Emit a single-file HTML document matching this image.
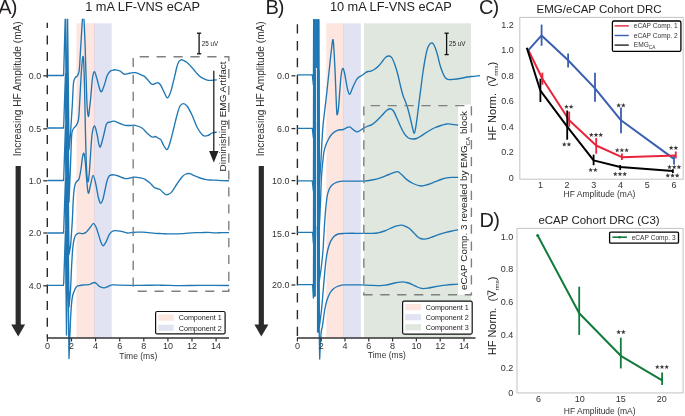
<!DOCTYPE html>
<html><head><meta charset="utf-8"><style>
html,body{margin:0;padding:0;background:#fff;width:685px;height:416px;overflow:hidden;}
svg{display:block;will-change:transform;}
text{font-family:"Liberation Sans",sans-serif;}
</style></head><body>
<svg width="685" height="416" viewBox="0 0 685 416" font-family="Liberation Sans, sans-serif">
<rect width="685" height="416" fill="#fff"/>
<defs>
<clipPath id="clipA"><rect x="0" y="18.8" width="232" height="400"/></clipPath>
<clipPath id="clipB"><rect x="240" y="19.2" width="245" height="400"/></clipPath>
</defs>
<rect x="76.4" y="23.3" width="18.1" height="314.7" fill="#fde6df"/>
<rect x="94.4" y="23.3" width="17.3" height="314.7" fill="#e1e3f2"/>
<rect x="93.9" y="23.3" width="1.1" height="314.7" fill="#e5d7e2"/>
<line x1="47.3" y1="22.8" x2="47.3" y2="338" stroke="#2a2a2a" stroke-width="1.4" stroke-dasharray="9 7.6" stroke-dashoffset="3.9"/>
<g clip-path="url(#clipA)" fill="none" stroke="#1f77b4" stroke-width="1.35" stroke-linejoin="round">
<path d="M47.40,75.50 L63.30,75.50 L63.70,73.50 L65.45,10.00 L66.50,145.50 L67.50,10.00 L69.00,149.50 L69.00,149.50 C69.22,147.25 69.92,140.75 70.30,136.00 C70.68,131.25 70.95,126.50 71.30,121.00 C71.65,115.50 72.08,108.67 72.40,103.00 C72.72,97.33 72.95,90.75 73.20,87.00 C73.45,83.25 73.52,82.12 73.90,80.50 C74.28,78.88 74.95,78.02 75.50,77.30 C76.05,76.58 76.68,76.92 77.20,76.20 C77.72,75.48 78.20,74.70 78.60,73.00 C79.00,71.30 79.12,72.50 79.60,66.00 C80.08,59.50 80.88,43.00 81.50,34.00 C82.12,25.00 82.72,10.67 83.30,12.00 C83.88,13.33 84.42,27.33 85.00,42.00 C85.58,56.67 86.25,87.62 86.80,100.00 C87.35,112.38 87.83,114.97 88.30,116.30 C88.77,117.63 89.20,111.05 89.60,108.00 C90.00,104.95 90.22,103.00 90.70,98.00 C91.18,93.00 91.87,82.38 92.50,78.00 C93.13,73.62 93.75,71.53 94.50,71.70 C95.25,71.87 95.95,75.68 97.00,79.00 C98.05,82.32 99.63,90.43 100.80,91.60 C101.97,92.77 102.97,88.60 104.00,86.00 C105.03,83.40 106.05,78.38 107.00,76.00 C107.95,73.62 108.78,72.65 109.70,71.70 C110.62,70.75 111.50,70.62 112.50,70.30 C113.50,69.98 114.45,69.68 115.70,69.80 C116.95,69.92 118.60,70.28 120.00,71.00 C121.40,71.72 122.77,73.67 124.10,74.10 C125.43,74.53 126.80,73.80 128.00,73.60 C129.20,73.40 130.13,73.05 131.30,72.90 C132.47,72.75 133.80,72.58 135.00,72.70 C136.20,72.82 137.27,73.17 138.50,73.60 C139.73,74.03 141.35,74.80 142.40,75.30 C143.45,75.80 144.03,75.98 144.80,76.60 C145.57,77.22 146.20,78.10 147.00,79.00 C147.80,79.90 148.85,81.17 149.60,82.00 C150.35,82.83 150.90,83.60 151.50,84.00 C152.10,84.40 152.53,84.52 153.20,84.40 C153.87,84.28 154.70,83.60 155.50,83.30 C156.30,83.00 157.25,82.43 158.00,82.60 C158.75,82.77 159.40,83.58 160.00,84.30 C160.60,85.02 160.85,85.45 161.60,86.90 C162.35,88.35 163.60,91.20 164.50,93.00 C165.40,94.80 166.25,97.20 167.00,97.70 C167.75,98.20 168.28,97.30 169.00,96.00 C169.72,94.70 170.63,92.07 171.30,89.90 C171.97,87.73 172.40,85.42 173.00,83.00 C173.60,80.58 174.28,77.98 174.90,75.40 C175.52,72.82 176.10,69.70 176.70,67.50 C177.30,65.30 177.90,63.42 178.50,62.20 C179.10,60.98 179.70,60.60 180.30,60.20 C180.90,59.80 181.32,59.63 182.10,59.80 C182.88,59.97 184.00,60.60 185.00,61.20 C186.00,61.80 187.10,62.52 188.10,63.40 C189.10,64.28 190.00,65.40 191.00,66.50 C192.00,67.60 193.10,68.83 194.10,70.00 C195.10,71.17 196.02,72.40 197.00,73.50 C197.98,74.60 199.00,75.78 200.00,76.60 C201.00,77.42 201.67,77.78 203.00,78.40 C204.33,79.02 206.57,79.98 208.00,80.30 C209.43,80.62 210.27,80.37 211.60,80.30 C212.93,80.23 214.27,80.00 216.00,79.90 C217.73,79.80 219.83,79.75 222.00,79.70 C224.17,79.65 227.83,79.62 229.00,79.60"/>
<path d="M47.40,128.00 L63.30,128.00 L63.70,126.00 L65.45,74.00 L66.50,192.00 L67.50,74.00 L69.00,202.00 L69.00,202.00 C69.23,196.33 70.03,177.50 70.40,168.00 C70.77,158.50 70.95,150.83 71.20,145.00 C71.45,139.17 71.52,135.75 71.90,133.00 C72.28,130.25 72.85,129.67 73.50,128.50 C74.15,127.33 75.13,126.92 75.80,126.00 C76.47,125.08 77.02,124.33 77.50,123.00 C77.98,121.67 78.35,121.17 78.70,118.00 C79.05,114.83 79.13,112.00 79.60,104.00 C80.07,96.00 80.88,77.87 81.50,70.00 C82.12,62.13 82.80,54.30 83.30,56.80 C83.80,59.30 84.15,72.80 84.50,85.00 C84.85,97.20 85.07,116.17 85.40,130.00 C85.73,143.83 86.10,159.42 86.50,168.00 C86.90,176.58 87.38,180.17 87.80,181.50 C88.22,182.83 88.60,179.58 89.00,176.00 C89.40,172.42 89.70,166.83 90.20,160.00 C90.70,153.17 91.28,140.67 92.00,135.00 C92.72,129.33 93.67,126.17 94.50,126.00 C95.33,125.83 96.12,130.50 97.00,134.00 C97.88,137.50 98.80,146.33 99.80,147.00 C100.80,147.67 101.88,141.83 103.00,138.00 C104.12,134.17 105.33,126.65 106.50,124.00 C107.67,121.35 108.70,122.57 110.00,122.10 C111.30,121.63 112.63,120.97 114.30,121.20 C115.97,121.43 118.22,122.82 120.00,123.50 C121.78,124.18 123.33,124.97 125.00,125.30 C126.67,125.63 128.33,125.50 130.00,125.50 C131.67,125.50 133.00,124.88 135.00,125.30 C137.00,125.72 140.00,126.72 142.00,128.00 C144.00,129.28 145.33,131.50 147.00,133.00 C148.67,134.50 150.67,136.42 152.00,137.00 C153.33,137.58 154.00,136.33 155.00,136.50 C156.00,136.67 157.03,137.47 158.00,138.00 C158.97,138.53 159.80,138.37 160.80,139.70 C161.80,141.03 162.92,144.37 164.00,146.00 C165.08,147.63 166.22,150.33 167.30,149.50 C168.38,148.67 169.42,144.58 170.50,141.00 C171.58,137.42 172.72,132.33 173.80,128.00 C174.88,123.67 175.97,118.67 177.00,115.00 C178.03,111.33 178.92,107.90 180.00,106.00 C181.08,104.10 182.33,103.60 183.50,103.60 C184.67,103.60 185.58,104.10 187.00,106.00 C188.42,107.90 190.33,111.50 192.00,115.00 C193.67,118.50 195.17,123.60 197.00,127.00 C198.83,130.40 201.17,133.98 203.00,135.40 C204.83,136.82 206.50,135.90 208.00,135.50 C209.50,135.10 210.67,133.55 212.00,133.00 C213.33,132.45 214.33,132.37 216.00,132.20 C217.67,132.03 219.83,132.03 222.00,132.00 C224.17,131.97 227.83,132.00 229.00,132.00"/>
<path d="M47.40,180.50 L63.30,180.50 L63.70,178.50 L65.45,126.50 L66.50,242.50 L67.50,126.50 L69.00,254.50 L69.00,254.50 C69.25,253.08 70.08,249.58 70.50,246.00 C70.92,242.42 71.18,237.50 71.50,233.00 C71.82,228.50 72.12,224.33 72.40,219.00 C72.68,213.67 72.90,206.00 73.20,201.00 C73.50,196.00 73.82,191.92 74.20,189.00 C74.58,186.08 75.08,184.75 75.50,183.50 C75.92,182.25 76.10,182.30 76.70,181.50 C77.30,180.70 78.38,180.78 79.10,178.70 C79.82,176.62 80.43,172.62 81.00,169.00 C81.57,165.38 82.02,159.62 82.50,157.00 C82.98,154.38 83.43,152.47 83.90,153.30 C84.37,154.13 84.87,157.88 85.30,162.00 C85.73,166.12 86.00,172.82 86.50,178.00 C87.00,183.18 87.63,191.93 88.30,193.10 C88.97,194.27 89.70,187.97 90.50,185.00 C91.30,182.03 92.18,175.30 93.10,175.30 C94.02,175.30 95.10,181.22 96.00,185.00 C96.90,188.78 97.73,194.97 98.50,198.00 C99.27,201.03 99.85,203.03 100.60,203.20 C101.35,203.37 102.27,201.20 103.00,199.00 C103.73,196.80 104.33,193.00 105.00,190.00 C105.67,187.00 106.27,183.37 107.00,181.00 C107.73,178.63 108.23,176.83 109.40,175.80 C110.57,174.77 112.57,174.77 114.00,174.80 C115.43,174.83 116.17,175.37 118.00,176.00 C119.83,176.63 123.00,178.27 125.00,178.60 C127.00,178.93 128.33,178.25 130.00,178.00 C131.67,177.75 133.33,177.13 135.00,177.10 C136.67,177.07 138.33,177.43 140.00,177.80 C141.67,178.17 143.33,178.43 145.00,179.30 C146.67,180.17 148.50,181.67 150.00,183.00 C151.50,184.33 152.83,186.38 154.00,187.30 C155.17,188.22 156.00,188.13 157.00,188.50 C158.00,188.87 159.00,188.83 160.00,189.50 C161.00,190.17 161.97,191.60 163.00,192.50 C164.03,193.40 165.20,194.65 166.20,194.90 C167.20,195.15 168.03,194.55 169.00,194.00 C169.97,193.45 170.67,193.27 172.00,191.60 C173.33,189.93 175.33,186.43 177.00,184.00 C178.67,181.57 180.50,178.67 182.00,177.00 C183.50,175.33 184.67,174.55 186.00,174.00 C187.33,173.45 188.50,173.37 190.00,173.70 C191.50,174.03 193.33,175.28 195.00,176.00 C196.67,176.72 198.32,177.45 200.00,178.00 C201.68,178.55 203.43,178.97 205.10,179.30 C206.77,179.63 208.18,179.85 210.00,180.00 C211.82,180.15 214.00,180.10 216.00,180.20 C218.00,180.30 219.83,180.50 222.00,180.60 C224.17,180.70 227.83,180.77 229.00,180.80"/>
<path d="M47.40,233.00 L63.30,233.00 L63.70,231.00 L65.45,179.00 L66.50,293.00 L67.50,179.00 L69.00,307.00 L69.00,307.00 C69.25,304.17 70.08,296.50 70.50,290.00 C70.92,283.50 71.20,274.00 71.50,268.00 C71.80,262.00 72.05,257.67 72.30,254.00 C72.55,250.33 72.72,248.33 73.00,246.00 C73.28,243.67 73.63,241.67 74.00,240.00 C74.37,238.33 74.70,237.00 75.20,236.00 C75.70,235.00 76.35,234.47 77.00,234.00 C77.65,233.53 78.12,233.27 79.10,233.20 C80.08,233.13 81.75,233.75 82.90,233.60 C84.05,233.45 85.23,232.77 86.00,232.30 C86.77,231.83 86.75,231.68 87.50,230.80 C88.25,229.92 89.50,228.25 90.50,227.00 C91.50,225.75 92.58,223.30 93.50,223.30 C94.42,223.30 95.20,225.27 96.00,227.00 C96.80,228.73 97.55,231.37 98.30,233.70 C99.05,236.03 99.70,239.00 100.50,241.00 C101.30,243.00 102.18,245.53 103.10,245.70 C104.02,245.87 105.00,243.80 106.00,242.00 C107.00,240.20 108.10,236.65 109.10,234.90 C110.10,233.15 110.98,232.22 112.00,231.50 C113.02,230.78 113.67,230.63 115.20,230.60 C116.73,230.57 119.20,230.90 121.20,231.30 C123.20,231.70 125.57,232.77 127.20,233.00 C128.83,233.23 129.40,232.83 131.00,232.70 C132.60,232.57 134.97,232.30 136.80,232.20 C138.63,232.10 140.13,232.03 142.00,232.10 C143.87,232.17 145.83,232.40 148.00,232.60 C150.17,232.80 152.67,233.13 155.00,233.30 C157.33,233.47 159.83,233.50 162.00,233.60 C164.17,233.70 165.83,233.85 168.00,233.90 C170.17,233.95 172.67,233.95 175.00,233.90 C177.33,233.85 179.83,233.73 182.00,233.60 C184.17,233.47 185.83,233.25 188.00,233.10 C190.17,232.95 192.67,232.78 195.00,232.70 C197.33,232.62 199.83,232.65 202.00,232.60 C204.17,232.55 205.83,232.37 208.00,232.40 C210.17,232.43 212.67,232.75 215.00,232.80 C217.33,232.85 219.67,232.73 222.00,232.70 C224.33,232.67 227.83,232.62 229.00,232.60"/>
<path d="M47.40,285.40 L63.30,285.40 L63.70,283.40 L65.45,231.40 L66.50,335.00 L67.50,231.40 L69.00,358.50 L69.00,358.50 C69.23,352.42 69.98,331.08 70.40,322.00 C70.82,312.92 71.10,308.50 71.50,304.00 C71.90,299.50 72.23,297.42 72.80,295.00 C73.37,292.58 74.33,290.83 74.90,289.50 C75.47,288.17 75.70,287.60 76.20,287.00 C76.70,286.40 76.77,286.23 77.90,285.90 C79.03,285.57 81.20,285.20 83.00,285.00 C84.80,284.80 87.28,284.95 88.70,284.70 C90.12,284.45 90.50,283.87 91.50,283.50 C92.50,283.13 93.87,282.50 94.70,282.50 C95.53,282.50 95.90,283.02 96.50,283.50 C97.10,283.98 97.55,284.78 98.30,285.40 C99.05,286.02 100.00,286.80 101.00,287.20 C102.00,287.60 103.13,287.92 104.30,287.80 C105.47,287.68 106.60,286.98 108.00,286.50 C109.40,286.02 110.70,285.12 112.70,284.90 C114.70,284.68 115.45,285.12 120.00,285.20 C124.55,285.28 133.33,285.40 140.00,285.40 C146.67,285.40 153.33,285.17 160.00,285.20 C166.67,285.23 173.33,285.58 180.00,285.60 C186.67,285.62 191.83,285.32 200.00,285.30 C208.17,285.28 224.17,285.47 229.00,285.50"/>
</g>
<rect x="216.8" y="60" width="13" height="113" fill="#fff"/>
<path d="M133.2,291.2 H228.8 V56.7 H133.2 Z" fill="none" stroke="#808080" stroke-width="1.4" stroke-dasharray="9.2 7.7" stroke-dashoffset="12.5"/>
<line x1="213.8" y1="70.8" x2="213.8" y2="152" stroke="#222" stroke-width="1.3"/>
<polygon points="209.1,151 218.5,151 213.8,162.5" fill="#222"/>
<text transform="translate(225.8,171.4) rotate(-90)" font-size="9.95" fill="#222">Diminishing EMG Artifact</text>
<g stroke="#111" stroke-width="1.3"><line x1="199.1" y1="33" x2="199.1" y2="54"/><line x1="197" y1="33.2" x2="201.2" y2="33.2"/><line x1="197" y1="53.8" x2="201.2" y2="53.8"/></g>
<text x="201.8" y="45.8" font-size="6.3" fill="#222">25 uV</text>
<line x1="47" y1="338" x2="229" y2="338" stroke="#333" stroke-width="1.3"/>
<line x1="47.4" y1="338" x2="47.4" y2="341.5" stroke="#333" stroke-width="1.2"/>
<text x="47.4" y="348.8" font-size="9" text-anchor="middle" fill="#333">0</text>
<line x1="71.5" y1="338" x2="71.5" y2="341.5" stroke="#333" stroke-width="1.2"/>
<text x="71.5" y="348.8" font-size="9" text-anchor="middle" fill="#333">2</text>
<line x1="95.6" y1="338" x2="95.6" y2="341.5" stroke="#333" stroke-width="1.2"/>
<text x="95.6" y="348.8" font-size="9" text-anchor="middle" fill="#333">4</text>
<line x1="119.7" y1="338" x2="119.7" y2="341.5" stroke="#333" stroke-width="1.2"/>
<text x="119.7" y="348.8" font-size="9" text-anchor="middle" fill="#333">6</text>
<line x1="143.8" y1="338" x2="143.8" y2="341.5" stroke="#333" stroke-width="1.2"/>
<text x="143.8" y="348.8" font-size="9" text-anchor="middle" fill="#333">8</text>
<line x1="167.9" y1="338" x2="167.9" y2="341.5" stroke="#333" stroke-width="1.2"/>
<text x="167.9" y="348.8" font-size="9" text-anchor="middle" fill="#333">10</text>
<line x1="192.0" y1="338" x2="192.0" y2="341.5" stroke="#333" stroke-width="1.2"/>
<text x="192.0" y="348.8" font-size="9" text-anchor="middle" fill="#333">12</text>
<line x1="216.1" y1="338" x2="216.1" y2="341.5" stroke="#333" stroke-width="1.2"/>
<text x="216.1" y="348.8" font-size="9" text-anchor="middle" fill="#333">14</text>
<text x="138.3" y="358.5" font-size="8.5" text-anchor="middle" fill="#333">Time (ms)</text>
<line x1="43.3" y1="75.8" x2="47.3" y2="75.8" stroke="#333" stroke-width="1.3"/>
<text x="41.2" y="79.0" font-size="8.9" text-anchor="end" fill="#333">0.0</text>
<line x1="43.3" y1="128.8" x2="47.3" y2="128.8" stroke="#333" stroke-width="1.3"/>
<text x="41.2" y="132.0" font-size="8.9" text-anchor="end" fill="#333">0.5</text>
<line x1="43.3" y1="180.8" x2="47.3" y2="180.8" stroke="#333" stroke-width="1.3"/>
<text x="41.2" y="184.0" font-size="8.9" text-anchor="end" fill="#333">1.0</text>
<line x1="43.3" y1="233" x2="47.3" y2="233" stroke="#333" stroke-width="1.3"/>
<text x="41.2" y="236.2" font-size="8.9" text-anchor="end" fill="#333">2.0</text>
<line x1="43.3" y1="285.8" x2="47.3" y2="285.8" stroke="#333" stroke-width="1.3"/>
<text x="41.2" y="289.0" font-size="8.9" text-anchor="end" fill="#333">4.0</text>
<text transform="translate(20.8,156.3) rotate(-90)" font-size="10.15" fill="#333">Increasing HF Amplitude (mA)</text>
<rect x="15.6" y="166" width="5.2" height="160" fill="#2b2b2b"/>
<polygon points="11.2,324.6 25.1,324.6 18.2,336.4" fill="#2b2b2b"/>
<rect x="155.6" y="311.5" width="69.5" height="22.4" rx="1.5" fill="#fff" stroke="#111" stroke-width="1.2"/>
<rect x="158.2" y="314.5" width="15.4" height="6.2" fill="#fde6df"/>
<rect x="158.2" y="324.7" width="15.4" height="6.2" fill="#e1e3f2"/>
<text x="178.7" y="320.4" font-size="7.2" fill="#222">Component 1</text>
<text x="178.7" y="330.6" font-size="7.2" fill="#222">Component 2</text>
<text x="85.2" y="10.6" font-size="12.75" fill="#222">1 mA LF-VNS eCAP</text>
<text x="-1.8" y="13.8" font-size="20" letter-spacing="-0.9" fill="#231f20">A)</text>
<rect x="326.3" y="23.3" width="17.2" height="314.7" fill="#fde6df"/>
<rect x="343.5" y="23.3" width="17.3" height="314.7" fill="#e1e3f2"/>
<rect x="343.0" y="23.3" width="1.1" height="314.7" fill="#e5d7e2"/>
<rect x="364.0" y="23.3" width="107" height="314.7" fill="#dfe7de"/>
<line x1="297.4" y1="24.3" x2="297.4" y2="338" stroke="#2a2a2a" stroke-width="1.4" stroke-dasharray="9.3 7.5"/>
<g clip-path="url(#clipB)" fill="none" stroke="#1f77b4" stroke-width="1.35" stroke-linejoin="round">
<path d="M297.40,74.80 L312.30,74.80 L313.40,85.00 L313.70,10.00 M318.80,10.00 L318.90,29.80 L319.30,184.80 L319.30,184.80 C319.55,181.17 320.37,169.97 320.80,163.00 C321.23,156.03 321.52,149.38 321.90,143.00 C322.28,136.62 322.38,132.20 323.10,124.70 C323.82,117.20 325.22,106.78 326.20,98.00 C327.18,89.22 328.13,80.00 329.00,72.00 C329.87,64.00 330.70,55.27 331.40,50.00 C332.10,44.73 332.60,37.07 333.20,40.40 C333.80,43.73 334.50,60.07 335.00,70.00 C335.50,79.93 335.87,92.57 336.20,100.00 C336.53,107.43 336.62,113.27 337.00,114.60 C337.38,115.93 338.00,112.43 338.50,108.00 C339.00,103.57 339.53,93.67 340.00,88.00 C340.47,82.33 340.85,77.27 341.30,74.00 C341.75,70.73 342.17,68.57 342.70,68.40 C343.23,68.23 343.70,69.57 344.50,73.00 C345.30,76.43 346.63,85.43 347.50,89.00 C348.37,92.57 348.87,94.57 349.70,94.40 C350.53,94.23 351.40,90.40 352.50,88.00 C353.60,85.60 355.22,81.83 356.30,80.00 C357.38,78.17 358.03,77.78 359.00,77.00 C359.97,76.22 361.10,75.97 362.10,75.30 C363.10,74.63 364.02,73.63 365.00,73.00 C365.98,72.37 367.00,71.80 368.00,71.50 C369.00,71.20 369.83,71.62 371.00,71.20 C372.17,70.78 373.67,69.95 375.00,69.00 C376.33,68.05 377.67,66.92 379.00,65.50 C380.33,64.08 381.83,61.92 383.00,60.50 C384.17,59.08 384.95,57.75 386.00,57.00 C387.05,56.25 388.30,55.83 389.30,56.00 C390.30,56.17 391.08,56.58 392.00,58.00 C392.92,59.42 393.85,61.83 394.80,64.50 C395.75,67.17 396.75,70.42 397.70,74.00 C398.65,77.58 399.62,82.42 400.50,86.00 C401.38,89.58 402.25,93.08 403.00,95.50 C403.75,97.92 404.25,98.50 405.00,100.50 C405.75,102.50 406.67,104.75 407.50,107.50 C408.33,110.25 409.20,113.75 410.00,117.00 C410.80,120.25 411.60,124.27 412.30,127.00 C413.00,129.73 413.62,133.40 414.20,133.40 C414.78,133.40 415.25,130.07 415.80,127.00 C416.35,123.93 416.93,119.33 417.50,115.00 C418.07,110.67 418.63,105.50 419.20,101.00 C419.77,96.50 420.27,92.83 420.90,88.00 C421.53,83.17 422.23,77.17 423.00,72.00 C423.77,66.83 424.67,61.17 425.50,57.00 C426.33,52.83 427.02,49.37 428.00,47.00 C428.98,44.63 430.40,43.13 431.40,42.80 C432.40,42.47 433.07,43.30 434.00,45.00 C434.93,46.70 436.00,49.67 437.00,53.00 C438.00,56.33 439.00,61.58 440.00,65.00 C441.00,68.42 442.03,71.30 443.00,73.50 C443.97,75.70 444.80,77.18 445.80,78.20 C446.80,79.22 447.80,79.40 449.00,79.60 C450.20,79.80 451.17,79.58 453.00,79.40 C454.83,79.22 457.58,78.90 460.00,78.50 C462.42,78.10 465.17,77.37 467.50,77.00 C469.83,76.63 471.92,76.53 474.00,76.30 C476.08,76.07 479.00,75.72 480.00,75.60"/>
<path d="M297.40,128.30 L312.30,128.30 L313.40,138.00 L313.70,70.30 M318.80,70.30 L318.90,83.30 L319.30,228.30 L319.30,228.30 C319.52,223.58 320.25,208.38 320.60,200.00 C320.95,191.62 320.92,185.50 321.40,178.00 C321.88,170.50 322.82,160.33 323.50,155.00 C324.18,149.67 324.65,148.67 325.50,146.00 C326.35,143.33 327.52,141.00 328.60,139.00 C329.68,137.00 330.55,135.43 332.00,134.00 C333.45,132.57 335.45,131.15 337.30,130.40 C339.15,129.65 341.57,129.93 343.10,129.50 C344.63,129.07 345.40,128.23 346.50,127.80 C347.60,127.37 348.62,126.62 349.70,126.90 C350.78,127.18 351.80,128.68 353.00,129.50 C354.20,130.32 355.73,131.63 356.90,131.80 C358.07,131.97 358.95,131.08 360.00,130.50 C361.05,129.92 362.03,128.97 363.20,128.30 C364.37,127.63 365.55,127.12 367.00,126.50 C368.45,125.88 370.23,125.60 371.90,124.60 C373.57,123.60 375.32,122.03 377.00,120.50 C378.68,118.97 380.50,116.98 382.00,115.40 C383.50,113.82 384.67,112.12 386.00,111.00 C387.33,109.88 388.75,108.70 390.00,108.70 C391.25,108.70 392.20,109.07 393.50,111.00 C394.80,112.93 396.47,117.38 397.80,120.30 C399.13,123.22 400.30,126.10 401.50,128.50 C402.70,130.90 403.83,133.12 405.00,134.70 C406.17,136.28 407.30,137.28 408.50,138.00 C409.70,138.72 410.87,138.92 412.20,139.00 C413.53,139.08 415.05,138.98 416.50,138.50 C417.95,138.02 418.98,137.27 420.90,136.10 C422.82,134.93 425.60,132.93 428.00,131.50 C430.40,130.07 433.13,128.50 435.30,127.50 C437.47,126.50 439.08,126.08 441.00,125.50 C442.92,124.92 444.97,124.20 446.80,124.00 C448.63,123.80 450.17,124.10 452.00,124.30 C453.83,124.50 455.63,125.00 457.80,125.20 C459.97,125.40 463.80,125.45 465.00,125.50"/>
<path d="M297.40,180.80 L312.30,180.80 L313.40,191.00 L313.70,122.80 M318.80,122.80 L318.90,135.80 L319.30,280.80 L319.30,280.80 C319.62,278.67 320.68,271.97 321.20,268.00 C321.72,264.03 322.05,260.67 322.40,257.00 C322.75,253.33 322.98,250.83 323.30,246.00 C323.62,241.17 323.92,234.00 324.30,228.00 C324.68,222.00 325.10,215.42 325.60,210.00 C326.10,204.58 326.68,199.00 327.30,195.50 C327.92,192.00 328.58,190.67 329.30,189.00 C330.02,187.33 330.65,186.50 331.60,185.50 C332.55,184.50 333.93,183.62 335.00,183.00 C336.07,182.38 336.67,182.12 338.00,181.80 C339.33,181.48 341.00,181.22 343.00,181.10 C345.00,180.98 346.63,181.10 350.00,181.10 C353.37,181.10 359.53,181.28 363.20,181.10 C366.87,180.92 369.12,180.53 372.00,180.00 C374.88,179.47 377.67,178.82 380.50,177.90 C383.33,176.98 386.20,175.55 389.00,174.50 C391.80,173.45 395.22,171.60 397.30,171.60 C399.38,171.60 399.97,173.20 401.50,174.50 C403.03,175.80 404.58,177.90 406.50,179.40 C408.42,180.90 410.60,182.40 413.00,183.50 C415.40,184.60 418.40,185.83 420.90,186.00 C423.40,186.17 425.60,185.22 428.00,184.50 C430.40,183.78 433.13,182.53 435.30,181.70 C437.47,180.87 439.08,180.13 441.00,179.50 C442.92,178.87 444.97,178.25 446.80,177.90 C448.63,177.55 450.17,177.50 452.00,177.40 C453.83,177.30 455.63,177.33 457.80,177.30 C459.97,177.27 463.80,177.22 465.00,177.20"/>
<path d="M297.40,232.30 L312.60,232.30 L313.40,243.30 L313.70,174.30 M318.80,174.30 L318.90,187.30 L319.30,327.30 L319.30,327.30 C319.67,324.42 320.88,315.72 321.50,310.00 C322.12,304.28 322.50,298.83 323.00,293.00 C323.50,287.17 324.00,280.50 324.50,275.00 C325.00,269.50 325.42,264.33 326.00,260.00 C326.58,255.67 327.23,252.10 328.00,249.00 C328.77,245.90 329.60,243.48 330.60,241.40 C331.60,239.32 332.75,237.73 334.00,236.50 C335.25,235.27 336.33,234.52 338.10,234.00 C339.87,233.48 341.78,233.52 344.60,233.40 C347.42,233.28 350.38,233.30 355.00,233.30 C359.62,233.30 368.47,233.48 372.30,233.40 C376.13,233.32 375.97,233.20 378.00,232.80 C380.03,232.40 382.05,231.92 384.50,231.00 C386.95,230.08 390.62,228.17 392.70,227.30 C394.78,226.43 395.47,226.15 397.00,225.80 C398.53,225.45 400.57,225.13 401.90,225.20 C403.23,225.27 403.80,225.68 405.00,226.20 C406.20,226.72 407.77,227.33 409.10,228.30 C410.43,229.27 411.63,230.63 413.00,232.00 C414.37,233.37 416.05,235.42 417.30,236.50 C418.55,237.58 419.32,238.07 420.50,238.50 C421.68,238.93 423.07,239.13 424.40,239.10 C425.73,239.07 426.97,238.73 428.50,238.30 C430.03,237.87 431.68,237.18 433.60,236.50 C435.52,235.82 437.95,234.88 440.00,234.20 C442.05,233.52 443.90,232.93 445.90,232.40 C447.90,231.87 449.95,231.42 452.00,231.00 C454.05,230.58 456.03,230.15 458.20,229.90 C460.37,229.65 463.87,229.57 465.00,229.50"/>
<path d="M297.40,284.60 L312.60,284.60 L313.40,298.00 L313.70,226.60 M317.40,226.60 L317.60,239.60 L319.70,359.00 L319.70,359.00 C319.80,356.67 320.05,349.50 320.30,345.00 C320.55,340.50 320.82,335.33 321.20,332.00 C321.58,328.67 322.02,328.67 322.60,325.00 C323.18,321.33 323.97,314.17 324.70,310.00 C325.43,305.83 326.12,302.83 327.00,300.00 C327.88,297.17 328.92,294.87 330.00,293.00 C331.08,291.13 332.28,289.88 333.50,288.80 C334.72,287.72 336.05,287.08 337.30,286.50 C338.55,285.92 339.72,285.57 341.00,285.30 C342.28,285.03 341.83,284.97 345.00,284.90 C348.17,284.83 355.83,284.83 360.00,284.90 C364.17,284.97 366.60,285.18 370.00,285.30 C373.40,285.42 377.73,285.65 380.40,285.60 C383.07,285.55 383.95,285.35 386.00,285.00 C388.05,284.65 390.70,283.95 392.70,283.50 C394.70,283.05 396.30,282.57 398.00,282.30 C399.70,282.03 401.48,281.87 402.90,281.90 C404.32,281.93 405.30,282.23 406.50,282.50 C407.70,282.77 408.93,283.05 410.10,283.50 C411.27,283.95 412.30,284.62 413.50,285.20 C414.70,285.78 416.13,286.50 417.30,287.00 C418.47,287.50 419.48,287.93 420.50,288.20 C421.52,288.47 422.15,288.62 423.40,288.60 C424.65,288.58 426.30,288.37 428.00,288.10 C429.70,287.83 431.60,287.37 433.60,287.00 C435.60,286.63 437.95,286.22 440.00,285.90 C442.05,285.58 443.90,285.33 445.90,285.10 C447.90,284.87 449.95,284.67 452.00,284.50 C454.05,284.33 456.03,284.18 458.20,284.10 C460.37,284.02 463.87,284.02 465.00,284.00"/>
</g>
<g clip-path="url(#clipB)" stroke="#1f77b4" stroke-width="1.35"><line x1="313.8" y1="10.0" x2="313.8" y2="124.8"/><line x1="314.5" y1="10.0" x2="314.5" y2="124.8"/><line x1="315.2" y1="10.0" x2="315.2" y2="124.8"/><line x1="313.8" y1="70.3" x2="313.8" y2="178.3"/><line x1="314.5" y1="70.3" x2="314.5" y2="178.3"/><line x1="315.2" y1="70.3" x2="315.2" y2="178.3"/><line x1="313.8" y1="122.8" x2="313.8" y2="230.8"/><line x1="314.5" y1="122.8" x2="314.5" y2="230.8"/><line x1="315.2" y1="122.8" x2="315.2" y2="230.8"/><line x1="313.8" y1="174.3" x2="313.8" y2="280.3"/><line x1="314.5" y1="174.3" x2="314.5" y2="280.3"/><line x1="315.2" y1="174.3" x2="315.2" y2="280.3"/><line x1="313.8" y1="226.6" x2="313.8" y2="296.6"/><line x1="314.5" y1="226.6" x2="314.5" y2="296.6"/><line x1="315.2" y1="226.6" x2="315.2" y2="296.6"/><line x1="317.6" y1="10.0" x2="317.6" y2="129.8"/><line x1="318.5" y1="10.0" x2="318.5" y2="129.8"/><line x1="317.6" y1="70.3" x2="317.6" y2="183.3"/><line x1="318.5" y1="70.3" x2="318.5" y2="183.3"/><line x1="317.6" y1="122.8" x2="317.6" y2="235.8"/><line x1="318.5" y1="122.8" x2="318.5" y2="235.8"/><line x1="317.6" y1="174.3" x2="317.6" y2="287.3"/><line x1="318.5" y1="174.3" x2="318.5" y2="287.3"/><line x1="317.6" y1="226.6" x2="317.6" y2="332.6"/><line x1="318.5" y1="226.6" x2="318.5" y2="332.6"/><line x1="316.0" y1="10" x2="316.0" y2="68"/><line x1="316.7" y1="10" x2="316.7" y2="68"/></g>
<rect x="458.2" y="104.6" width="24" height="190.2" fill="#fff"/>
<path d="M363.8,294.8 H471.4 V105.6 H363.8 Z" fill="none" stroke="#808080" stroke-width="1.4" stroke-dasharray="9.2 7.7" stroke-dashoffset="0.4"/>
<text transform="translate(467,290.1) rotate(-90)" font-size="9.9" fill="#222" xml:space="preserve">eCAP Comp. 3 revealed by EMG<tspan font-size="6.2" dy="2.6">CA</tspan><tspan dy="-2.6"> block</tspan></text>
<g stroke="#111" stroke-width="1.3"><line x1="446.6" y1="33" x2="446.6" y2="54.8"/><line x1="444.5" y1="33.2" x2="448.7" y2="33.2"/><line x1="444.5" y1="54.6" x2="448.7" y2="54.6"/></g>
<text x="449" y="46.2" font-size="6.3" fill="#222">25 uV</text>
<line x1="297" y1="338" x2="475.5" y2="338" stroke="#333" stroke-width="1.3"/>
<line x1="297.4" y1="338" x2="297.4" y2="341.5" stroke="#333" stroke-width="1.2"/>
<text x="297.4" y="348.8" font-size="9" text-anchor="middle" fill="#333">0</text>
<line x1="321.2" y1="338" x2="321.2" y2="341.5" stroke="#333" stroke-width="1.2"/>
<text x="321.2" y="348.8" font-size="9" text-anchor="middle" fill="#333">2</text>
<line x1="345.0" y1="338" x2="345.0" y2="341.5" stroke="#333" stroke-width="1.2"/>
<text x="345.0" y="348.8" font-size="9" text-anchor="middle" fill="#333">4</text>
<line x1="368.8" y1="338" x2="368.8" y2="341.5" stroke="#333" stroke-width="1.2"/>
<text x="368.8" y="348.8" font-size="9" text-anchor="middle" fill="#333">6</text>
<line x1="392.6" y1="338" x2="392.6" y2="341.5" stroke="#333" stroke-width="1.2"/>
<text x="392.6" y="348.8" font-size="9" text-anchor="middle" fill="#333">8</text>
<line x1="416.4" y1="338" x2="416.4" y2="341.5" stroke="#333" stroke-width="1.2"/>
<text x="416.4" y="348.8" font-size="9" text-anchor="middle" fill="#333">10</text>
<line x1="440.2" y1="338" x2="440.2" y2="341.5" stroke="#333" stroke-width="1.2"/>
<text x="440.2" y="348.8" font-size="9" text-anchor="middle" fill="#333">12</text>
<line x1="464.0" y1="338" x2="464.0" y2="341.5" stroke="#333" stroke-width="1.2"/>
<text x="464.0" y="348.8" font-size="9" text-anchor="middle" fill="#333">14</text>
<text x="386.8" y="358.4" font-size="8.5" text-anchor="middle" fill="#333">Time (ms)</text>
<line x1="291.5" y1="75.8" x2="295.4" y2="75.8" stroke="#333" stroke-width="1.3"/>
<text x="289.4" y="79.0" font-size="8.9" text-anchor="end" fill="#333">0.0</text>
<line x1="291.5" y1="128.6" x2="295.4" y2="128.6" stroke="#333" stroke-width="1.3"/>
<text x="289.4" y="131.8" font-size="8.9" text-anchor="end" fill="#333">6.0</text>
<line x1="291.5" y1="180.6" x2="295.4" y2="180.6" stroke="#333" stroke-width="1.3"/>
<text x="289.4" y="183.8" font-size="8.9" text-anchor="end" fill="#333">10.0</text>
<line x1="291.5" y1="233.4" x2="295.4" y2="233.4" stroke="#333" stroke-width="1.3"/>
<text x="289.4" y="236.6" font-size="8.9" text-anchor="end" fill="#333">15.0</text>
<line x1="291.5" y1="285" x2="295.4" y2="285" stroke="#333" stroke-width="1.3"/>
<text x="289.4" y="288.2" font-size="8.9" text-anchor="end" fill="#333">20.0</text>
<text transform="translate(264.3,156.3) rotate(-90)" font-size="10.15" fill="#333">Increasing HF Amplitude (mA)</text>
<rect x="258.7" y="166" width="5.2" height="160" fill="#2b2b2b"/>
<polygon points="254.4,324.6 268.4,324.6 261.3,336.4" fill="#2b2b2b"/>
<rect x="402.6" y="301.2" width="69.6" height="32.9" rx="1.5" fill="#fff" stroke="#111" stroke-width="1.2"/>
<rect x="405.2" y="304" width="15.8" height="6.2" fill="#fde6df"/>
<rect x="405.2" y="314.1" width="15.8" height="6.2" fill="#e1e3f2"/>
<rect x="405.2" y="324.2" width="15.8" height="6.2" fill="#dfe7de"/>
<text x="425.7" y="309.6" font-size="7.2" fill="#222">Component 1</text>
<text x="425.7" y="319.7" font-size="7.2" fill="#222">Component 2</text>
<text x="425.7" y="329.8" font-size="7.2" fill="#222">Component 3</text>
<text x="329.9" y="10.6" font-size="12.75" fill="#222">10 mA LF-VNS eCAP</text>
<text x="265.4" y="13.8" font-size="20" letter-spacing="-0.9" fill="#231f20">B)</text>
<rect x="519.8" y="17.4" width="163.4" height="161.8" fill="none" stroke="#c8c8c8" stroke-width="1.1"/>
<text x="479" y="14" font-size="20" letter-spacing="-0.9" fill="#231f20">C)</text>
<text x="536.6" y="13.3" font-size="11.5" fill="#222">EMG/eCAP Cohort DRC</text>
<text x="513.8" y="180.5" font-size="9" text-anchor="end" fill="#333">0</text>
<text x="513.8" y="155.0" font-size="9" text-anchor="end" fill="#333">0.2</text>
<text x="513.8" y="129.5" font-size="9" text-anchor="end" fill="#333">0.4</text>
<text x="513.8" y="104.0" font-size="9" text-anchor="end" fill="#333">0.6</text>
<text x="513.8" y="78.5" font-size="9" text-anchor="end" fill="#333">0.8</text>
<text x="513.8" y="53.0" font-size="9" text-anchor="end" fill="#333">1.0</text>
<text x="513.8" y="27.5" font-size="9" text-anchor="end" fill="#333">1.2</text>
<text x="540.4" y="187.7" font-size="9" text-anchor="middle" fill="#333">1</text>
<text x="567.1" y="187.7" font-size="9" text-anchor="middle" fill="#333">2</text>
<text x="593.8" y="187.7" font-size="9" text-anchor="middle" fill="#333">3</text>
<text x="620.5" y="187.7" font-size="9" text-anchor="middle" fill="#333">4</text>
<text x="647.2" y="187.7" font-size="9" text-anchor="middle" fill="#333">5</text>
<text x="673.9" y="187.7" font-size="9" text-anchor="middle" fill="#333">6</text>
<text x="599.5" y="197.3" font-size="8.5" text-anchor="middle" fill="#333">HF Amplitude (mA)</text>
<g transform="translate(495.9,140.6) rotate(-90)"><text x="0" y="0" font-size="11" fill="#222" xml:space="preserve">HF Norm.  (V<tspan font-size="6.2" dy="2.2">rms</tspan><tspan dy="-2.2">)</tspan></text><line x1="60.00" y1="-8.6" x2="64.60" y2="-8.6" stroke="#222" stroke-width="0.75"/></g>
<path d="M528.40,50.20 L541.60,35.40 L568.10,60.20 L595.00,88.40 L621.00,120.30 L673.60,158.60" fill="none" stroke="#3a5fb0" stroke-width="2" stroke-linejoin="round"/>
<line x1="541.6" y1="24.6" x2="541.6" y2="45.8" stroke="#3a5fb0" stroke-width="1.8"/>
<line x1="568.1" y1="53.5" x2="568.1" y2="67.4" stroke="#3a5fb0" stroke-width="1.8"/>
<line x1="595.0" y1="72.7" x2="595.0" y2="101.8" stroke="#3a5fb0" stroke-width="1.8"/>
<line x1="621.0" y1="107.4" x2="621.0" y2="133.3" stroke="#3a5fb0" stroke-width="1.8"/>
<line x1="674.0" y1="155.2" x2="674.0" y2="164.5" stroke="#3a5fb0" stroke-width="1.8"/>
<path d="M528.40,50.20 L542.40,78.70 L569.20,120.20 L596.20,145.50 L621.90,157.20 L675.80,155.50" fill="none" stroke="#e8253b" stroke-width="2" stroke-linejoin="round"/>
<line x1="542.4" y1="72.7" x2="542.4" y2="84.7" stroke="#e8253b" stroke-width="1.8"/>
<line x1="569.2" y1="111.6" x2="569.2" y2="126.7" stroke="#e8253b" stroke-width="1.8"/>
<line x1="596.2" y1="138" x2="596.2" y2="153.7" stroke="#e8253b" stroke-width="1.8"/>
<line x1="621.9" y1="153.5" x2="621.9" y2="160.1" stroke="#e8253b" stroke-width="1.8"/>
<line x1="675.8" y1="151.5" x2="675.8" y2="158.4" stroke="#e8253b" stroke-width="1.8"/>
<path d="M526.80,47.80 L540.40,90.70 L567.20,126.70 L593.60,160.40 L620.20,167.00 L672.90,171.10" fill="none" stroke="#000" stroke-width="2" stroke-linejoin="round"/>
<line x1="540.4" y1="78.7" x2="540.4" y2="102" stroke="#000" stroke-width="1.8"/>
<line x1="567.2" y1="110.5" x2="567.2" y2="139.7" stroke="#000" stroke-width="1.8"/>
<line x1="593.6" y1="154.6" x2="593.6" y2="165.2" stroke="#000" stroke-width="1.8"/>
<line x1="620.2" y1="165" x2="620.2" y2="170" stroke="#000" stroke-width="1.8"/>
<line x1="672.9" y1="169.3" x2="672.9" y2="173" stroke="#000" stroke-width="1.8"/>
<polygon points="566.45,104.30 567.07,105.95 568.83,106.03 567.45,107.12 567.92,108.82 566.45,107.85 564.98,108.82 565.45,107.12 564.07,106.03 565.83,105.95" fill="#3a3a3a"/><polygon points="571.15,104.30 571.77,105.95 573.53,106.03 572.15,107.12 572.62,108.82 571.15,107.85 569.68,108.82 570.15,107.12 568.77,106.03 570.53,105.95" fill="#3a3a3a"/>
<polygon points="564.25,141.90 564.87,143.55 566.63,143.63 565.25,144.72 565.72,146.42 564.25,145.45 562.78,146.42 563.25,144.72 561.87,143.63 563.63,143.55" fill="#3a3a3a"/><polygon points="568.95,141.90 569.57,143.55 571.33,143.63 569.95,144.72 570.42,146.42 568.95,145.45 567.48,146.42 567.95,144.72 566.57,143.63 568.33,143.55" fill="#3a3a3a"/>
<polygon points="591.30,132.40 591.92,134.05 593.68,134.13 592.30,135.22 592.77,136.92 591.30,135.95 589.83,136.92 590.30,135.22 588.92,134.13 590.68,134.05" fill="#3a3a3a"/><polygon points="596.00,132.40 596.62,134.05 598.38,134.13 597.00,135.22 597.47,136.92 596.00,135.95 594.53,136.92 595.00,135.22 593.62,134.13 595.38,134.05" fill="#3a3a3a"/><polygon points="600.70,132.40 601.32,134.05 603.08,134.13 601.70,135.22 602.17,136.92 600.70,135.95 599.23,136.92 599.70,135.22 598.32,134.13 600.08,134.05" fill="#3a3a3a"/>
<polygon points="590.65,167.50 591.27,169.15 593.03,169.23 591.65,170.32 592.12,172.02 590.65,171.05 589.18,172.02 589.65,170.32 588.27,169.23 590.03,169.15" fill="#3a3a3a"/><polygon points="595.35,167.50 595.97,169.15 597.73,169.23 596.35,170.32 596.82,172.02 595.35,171.05 593.88,172.02 594.35,170.32 592.97,169.23 594.73,169.15" fill="#3a3a3a"/>
<polygon points="618.65,102.90 619.27,104.55 621.03,104.63 619.65,105.72 620.12,107.42 618.65,106.45 617.18,107.42 617.65,105.72 616.27,104.63 618.03,104.55" fill="#3a3a3a"/><polygon points="623.35,102.90 623.97,104.55 625.73,104.63 624.35,105.72 624.82,107.42 623.35,106.45 621.88,107.42 622.35,105.72 620.97,104.63 622.73,104.55" fill="#3a3a3a"/>
<polygon points="617.20,147.80 617.82,149.45 619.58,149.53 618.20,150.62 618.67,152.32 617.20,151.35 615.73,152.32 616.20,150.62 614.82,149.53 616.58,149.45" fill="#3a3a3a"/><polygon points="621.90,147.80 622.52,149.45 624.28,149.53 622.90,150.62 623.37,152.32 621.90,151.35 620.43,152.32 620.90,150.62 619.52,149.53 621.28,149.45" fill="#3a3a3a"/><polygon points="626.60,147.80 627.22,149.45 628.98,149.53 627.60,150.62 628.07,152.32 626.60,151.35 625.13,152.32 625.60,150.62 624.22,149.53 625.98,149.45" fill="#3a3a3a"/>
<polygon points="615.30,171.60 615.92,173.25 617.68,173.33 616.30,174.42 616.77,176.12 615.30,175.15 613.83,176.12 614.30,174.42 612.92,173.33 614.68,173.25" fill="#3a3a3a"/><polygon points="620.00,171.60 620.62,173.25 622.38,173.33 621.00,174.42 621.47,176.12 620.00,175.15 618.53,176.12 619.00,174.42 617.62,173.33 619.38,173.25" fill="#3a3a3a"/><polygon points="624.70,171.60 625.32,173.25 627.08,173.33 625.70,174.42 626.17,176.12 624.70,175.15 623.23,176.12 623.70,174.42 622.32,173.33 624.08,173.25" fill="#3a3a3a"/>
<polygon points="671.15,145.40 671.77,147.05 673.53,147.13 672.15,148.22 672.62,149.92 671.15,148.95 669.68,149.92 670.15,148.22 668.77,147.13 670.53,147.05" fill="#3a3a3a"/><polygon points="675.85,145.40 676.47,147.05 678.23,147.13 676.85,148.22 677.32,149.92 675.85,148.95 674.38,149.92 674.85,148.22 673.47,147.13 675.23,147.05" fill="#3a3a3a"/>
<polygon points="669.50,164.60 670.12,166.25 671.88,166.33 670.50,167.42 670.97,169.12 669.50,168.15 668.03,169.12 668.50,167.42 667.12,166.33 668.88,166.25" fill="#3a3a3a"/><polygon points="674.20,164.60 674.82,166.25 676.58,166.33 675.20,167.42 675.67,169.12 674.20,168.15 672.73,169.12 673.20,167.42 671.82,166.33 673.58,166.25" fill="#3a3a3a"/><polygon points="678.90,164.60 679.52,166.25 681.28,166.33 679.90,167.42 680.37,169.12 678.90,168.15 677.43,169.12 677.90,167.42 676.52,166.33 678.28,166.25" fill="#3a3a3a"/>
<polygon points="667.80,173.10 668.42,174.75 670.18,174.83 668.80,175.92 669.27,177.62 667.80,176.65 666.33,177.62 666.80,175.92 665.42,174.83 667.18,174.75" fill="#3a3a3a"/><polygon points="672.50,173.10 673.12,174.75 674.88,174.83 673.50,175.92 673.97,177.62 672.50,176.65 671.03,177.62 671.50,175.92 670.12,174.83 671.88,174.75" fill="#3a3a3a"/><polygon points="677.20,173.10 677.82,174.75 679.58,174.83 678.20,175.92 678.67,177.62 677.20,176.65 675.73,177.62 676.20,175.92 674.82,174.83 676.58,174.75" fill="#3a3a3a"/>
<rect x="612.4" y="21" width="68.5" height="30.4" rx="1.5" fill="#fff" stroke="#000" stroke-width="1.3"/>
<line x1="614.6" y1="25.9" x2="628.8" y2="25.9" stroke="#e8253b" stroke-width="1.4"/>
<line x1="614.6" y1="35.5" x2="628.8" y2="35.5" stroke="#3a5fb0" stroke-width="1.4"/>
<line x1="614.6" y1="45.1" x2="628.8" y2="45.1" stroke="#222" stroke-width="1.4"/>
<text x="633.8" y="28.3" font-size="6.6" fill="#333">eCAP Comp. 1</text>
<text x="633.8" y="37.9" font-size="6.6" fill="#333">eCAP Comp. 2</text>
<text x="633.8" y="47.4" font-size="6.6" fill="#333">EMG<tspan font-size="4.6" dy="1.6">CA</tspan></text>
<rect x="517" y="228.4" width="166.1" height="164.5" fill="none" stroke="#c8c8c8" stroke-width="1.1"/>
<text x="479.6" y="226.8" font-size="20" letter-spacing="-0.9" fill="#231f20">D)</text>
<text x="538.4" y="224" font-size="11.5" fill="#222">eCAP Cohort DRC (C3)</text>
<text x="513.2" y="396.4" font-size="9" text-anchor="end" fill="#333">0</text>
<text x="513.2" y="371.0" font-size="9" text-anchor="end" fill="#333">0.2</text>
<text x="513.2" y="338.1" font-size="9" text-anchor="end" fill="#333">0.4</text>
<text x="513.2" y="304.6" font-size="9" text-anchor="end" fill="#333">0.6</text>
<text x="513.2" y="272.4" font-size="9" text-anchor="end" fill="#333">0.8</text>
<text x="513.2" y="239.5" font-size="9" text-anchor="end" fill="#333">1.0</text>
<text x="538.6" y="402.2" font-size="9" text-anchor="middle" fill="#333">6</text>
<text x="579.8" y="402.2" font-size="9" text-anchor="middle" fill="#333">10</text>
<text x="620.8" y="402.2" font-size="9" text-anchor="middle" fill="#333">15</text>
<text x="661.7" y="402.2" font-size="9" text-anchor="middle" fill="#333">20</text>
<text x="599.7" y="414" font-size="8.5" text-anchor="middle" fill="#333">HF Amplitude (mA)</text>
<g transform="translate(496.4,355.3) rotate(-90)"><text x="0" y="0" font-size="11" fill="#222" xml:space="preserve">HF Norm.  (V<tspan font-size="6.2" dy="2.2">rms</tspan><tspan dy="-2.2">)</tspan></text><line x1="60.00" y1="-8.6" x2="64.60" y2="-8.6" stroke="#222" stroke-width="0.75"/></g>
<path d="M537.70,235.50 L579.20,313.30 L620.80,355.80 L662.10,380.40" fill="none" stroke="#117a3c" stroke-width="2" stroke-linejoin="round"/>
<circle cx="537.7" cy="235.5" r="1.5" fill="#117a3c"/>
<line x1="579.2" y1="286.7" x2="579.2" y2="334.9" stroke="#117a3c" stroke-width="1.8"/>
<line x1="620.8" y1="337.7" x2="620.8" y2="368.4" stroke="#117a3c" stroke-width="1.8"/>
<line x1="662.1" y1="372.6" x2="662.1" y2="385.1" stroke="#117a3c" stroke-width="1.8"/>
<polygon points="618.65,329.60 619.27,331.25 621.03,331.33 619.65,332.42 620.12,334.12 618.65,333.15 617.18,334.12 617.65,332.42 616.27,331.33 618.03,331.25" fill="#3a3a3a"/><polygon points="623.35,329.60 623.97,331.25 625.73,331.33 624.35,332.42 624.82,334.12 623.35,333.15 621.88,334.12 622.35,332.42 620.97,331.33 622.73,331.25" fill="#3a3a3a"/>
<polygon points="657.30,364.50 657.92,366.15 659.68,366.23 658.30,367.32 658.77,369.02 657.30,368.05 655.83,369.02 656.30,367.32 654.92,366.23 656.68,366.15" fill="#3a3a3a"/><polygon points="662.00,364.50 662.62,366.15 664.38,366.23 663.00,367.32 663.47,369.02 662.00,368.05 660.53,369.02 661.00,367.32 659.62,366.23 661.38,366.15" fill="#3a3a3a"/><polygon points="666.70,364.50 667.32,366.15 669.08,366.23 667.70,367.32 668.17,369.02 666.70,368.05 665.23,369.02 665.70,367.32 664.32,366.23 666.08,366.15" fill="#3a3a3a"/>
<rect x="609.6" y="232.1" width="68.9" height="11.1" rx="1.2" fill="#fff" stroke="#000" stroke-width="1.3"/>
<line x1="612.4" y1="237.2" x2="626.9" y2="237.2" stroke="#117a3c" stroke-width="1.6"/>
<circle cx="619.6" cy="237.2" r="1.2" fill="#117a3c"/>
<text x="631.7" y="239.6" font-size="6.6" fill="#333">eCAP Comp. 3</text>
</svg>
</body></html>
